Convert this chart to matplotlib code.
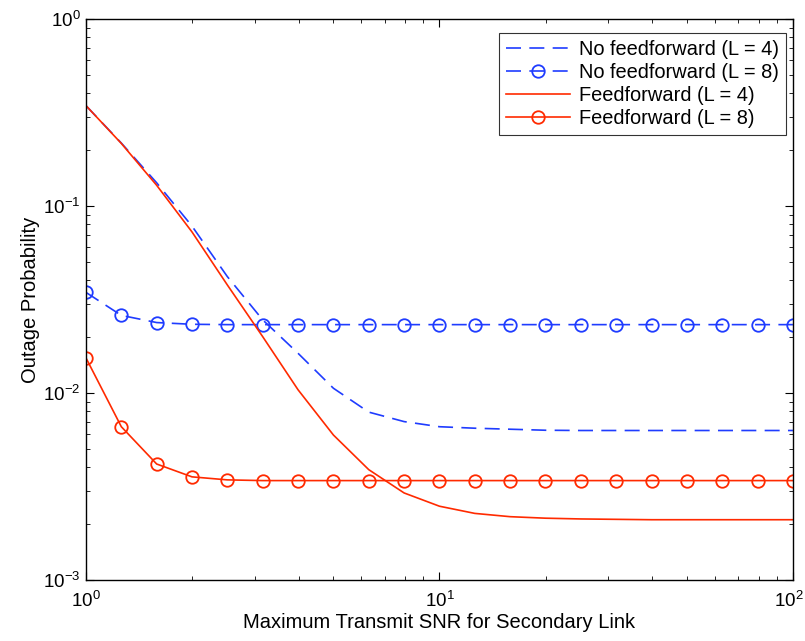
import matplotlib.pyplot as plt
import matplotlib.transforms as mtransforms
import numpy as np

plt.rcParams["font.family"] = ["Liberation Sans", "DejaVu Sans"]
plt.rcParams["mathtext.fontset"] = "custom"
plt.rcParams["mathtext.rm"] = "Liberation Sans"

# Maximum transmit SNR, 10 points per decade
snr = 10 ** (np.arange(21) / 10)

no_ff_l4 = [0.344, 0.217, 0.133, 0.078, 0.0419, 0.0246, 0.0163, 0.0106, 0.0079,
            0.00703, 0.0066, 0.00648, 0.0064, 0.00632, 0.0063, 0.0063, 0.0063,
            0.0063, 0.0063, 0.0063, 0.0063]
no_ff_l8 = [0.0345, 0.026, 0.0238, 0.0233, 0.0232, 0.0232, 0.0232, 0.0232, 0.0232,
            0.0232, 0.0232, 0.0232, 0.0232, 0.0232, 0.0232, 0.0232, 0.0232,
            0.0232, 0.0232, 0.0232, 0.0232]
ff_l4 = [0.344, 0.216, 0.129, 0.0726, 0.0378, 0.0200, 0.0104, 0.00596, 0.00389,
         0.00292, 0.00248, 0.00227, 0.00218, 0.00214, 0.00212, 0.00211, 0.0021,
         0.0021, 0.0021, 0.0021, 0.0021]
ff_l8 = [0.0154, 0.0066, 0.00417, 0.00356, 0.00343, 0.0034, 0.0034, 0.0034, 0.0034,
         0.0034, 0.0034, 0.0034, 0.0034, 0.0034, 0.0034, 0.0034, 0.0034,
         0.0034, 0.0034, 0.0034, 0.0034]

blue = "#1f3cff"
red = "#ff2a00"

fig = plt.figure(figsize=(8.05, 6.41), dpi=100)
ax = fig.add_axes([0.1068, 0.0952, 0.8782, 0.8752])

ax.loglog(snr, no_ff_l4, color=blue, lw=1.2, dashes=(9, 5), label="No feedforward (L = 4)")
ax.loglog(snr, no_ff_l8, color=blue, lw=1.2, dashes=(9, 5), marker="o", ms=9,
          mfc="none", mew=1.3, label="No feedforward (L = 8)")
ax.loglog(snr, ff_l4, color=red, lw=1.2, label="Feedforward (L = 4)")
ax.loglog(snr, ff_l8, color=red, lw=1.2, marker="o", ms=9, mfc="none", mew=1.3,
          label="Feedforward (L = 8)")

ax.set_xlim(1, 100)
ax.set_ylim(1e-3, 1)
ax.tick_params(which="both", direction="in", top=True, right=True, labelsize=13.5)
ax.tick_params(which="major", length=6)
ax.tick_params(which="minor", length=3)
ax.tick_params(axis="x", which="both", pad=8)
ax.tick_params(axis="y", which="both", pad=4)
for s in ax.spines.values():
    s.set_linewidth(1.0)

ax.set_xlabel("Maximum Transmit SNR for Secondary Link", fontsize=14.5, labelpad=1)
ax.set_ylabel("Outage Probability", fontsize=14.5, labelpad=2)

leg = ax.legend(loc="upper right", bbox_to_anchor=(0.990, 0.975), borderaxespad=0,
                fontsize=14.4, handlelength=3.2, frameon=True, fancybox=False,
                edgecolor="black", labelspacing=0.2, handletextpad=0.45,
                borderpad=0.35)
leg.get_frame().set_linewidth(0.8)

# nudge the 10^2 label left so it stays inside the figure, as in the original
fig.canvas.draw()
last = ax.xaxis.get_major_ticks()[-1]
for t in ax.xaxis.get_major_ticks():
    if np.isclose(t.get_loc(), 100):
        last = t
shift = mtransforms.ScaledTranslation(-4 / 100, 0, fig.dpi_scale_trans)
last.label1.set_transform(last.label1.get_transform() + shift)

fig.savefig("out.png", dpi=100)
